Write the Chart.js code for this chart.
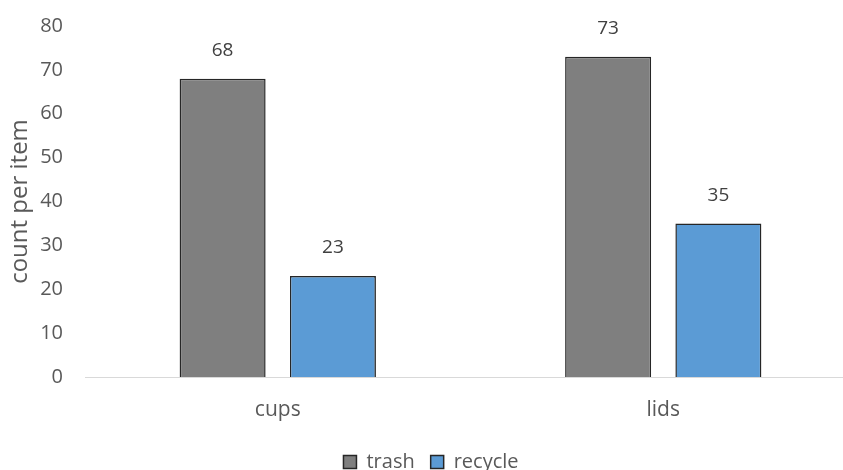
<!DOCTYPE html>
<html>
<head>
<meta charset="utf-8">
<script src="https://cdn.jsdelivr.net/npm/chart.js@4/dist/chart.umd.min.js"></script>
<style>
html,body{margin:0;padding:0;background:#fff;overflow:hidden;}
#wrap{width:843px;height:470px;position:relative;overflow:hidden;}
</style>
</head>
<body>
<div id="wrap"><canvas id="c" width="856" height="470"></canvas></div>
<script>
const categories = ["cups", "lids"];
const trashValues = [68, 73];
const recycleValues = [23, 35];
const seriesNames = ["trash", "recycle"];
const yTicks = [0, 10, 20, 30, 40, 50, 60, 70, 80];

const FONT = "'Open Sans', 'DejaVu Sans', sans-serif";
const TXT = "#595959";
const FS = 20;

const valueLabels = {
  id: 'valueLabels',
  afterDatasetsDraw(chart) {
    const ctx = chart.ctx;
    ctx.save();
    ctx.font = "19px " + FONT;
    ctx.fillStyle = "#404040";
    ctx.textAlign = "center";
    ctx.textBaseline = "middle";
    chart.data.datasets.forEach((ds, i) => {
      chart.getDatasetMeta(i).data.forEach((bar, j) => {
        ctx.fillText(String(ds.data[j]), bar.x, bar.y - 28);
      });
    });
    ctx.restore();
  }
};

new Chart(document.getElementById('c'), {
  type: 'bar',
  data: {
    labels: categories,
    datasets: [
      { label: seriesNames[0], data: trashValues, backgroundColor: '#7f7f7f', borderColor: '#262626', borderWidth: 1.5, barPercentage: 0.78, categoryPercentage: 0.572 },
      { label: seriesNames[1], data: recycleValues, backgroundColor: '#5b9bd5', borderColor: '#262626', borderWidth: 1.5, barPercentage: 0.78, categoryPercentage: 0.572 }
    ]
  },
  options: {
    responsive: false,
    animation: false,
    layout: { padding: { top: 26, right: 0, left: 6, bottom: -12 } },
    scales: {
      x: {
        grid: { display: false, drawTicks: false },
        border: { display: true, color: '#d9d9d9', width: 1 },
        ticks: { color: TXT, font: { family: FONT, size: 21 }, padding: 20 },
        afterFit(scale) { scale.height = 59; }
      },
      y: {
        min: 0, max: 80,
        afterBuildTicks(scale) { scale.ticks = yTicks.map(v => ({ value: v })); },
        grid: { display: false, drawTicks: false },
        border: { display: false },
        ticks: { color: TXT, font: { family: FONT, size: FS }, padding: 22 },
        title: { display: true, text: 'count per item', color: TXT, font: { family: FONT, size: 24 }, padding: { top: 0, bottom: 0 } },
        afterFit(scale) { scale.width = 79; scale.paddingTop = 0; scale.paddingBottom = 0; }
      }
    },
    plugins: {
      legend: {
        position: 'bottom',
        labels: {
          color: TXT, font: { family: FONT, size: FS },
          boxWidth: 13, boxHeight: 13, padding: 16
        }
      },
      tooltip: { enabled: false }
    }
  },
  plugins: [valueLabels]
});
</script>
</body>
</html>
